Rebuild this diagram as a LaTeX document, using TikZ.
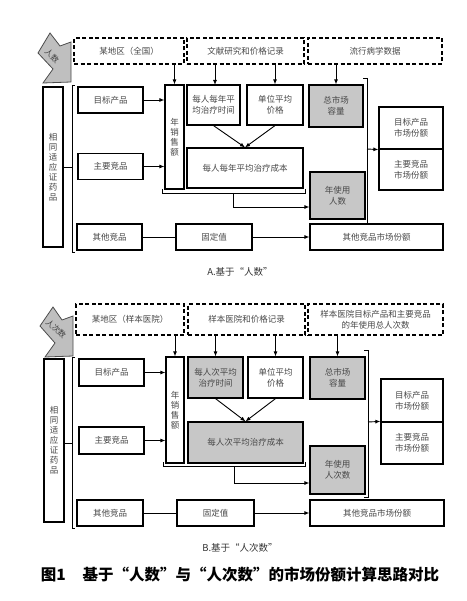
\documentclass[tikz,border=0pt]{standalone}
\usepackage{fontspec}
\newfontfamily\cjk{Noto Sans CJK SC}
\usetikzlibrary{arrows.meta}

\begin{document}
\begin{tikzpicture}[
    x=1pt, y=-1pt,
    box/.style={draw, line width=1.2pt, inner sep=0pt, align=center, text=black!72,
                font=\cjk\fontsize{8.5}{11}\selectfont},
    gbox/.style={box, fill=black!22},
    dbox/.style={box, dash pattern=on 4pt off 2.5pt},
    vtxt/.style={font=\cjk\fontsize{8.5}{10}\selectfont},
    sz/.style 2 args={minimum width=#1pt, minimum height=#2pt},
    arr/.style={line width=0.9pt, -{Latex[length=5pt,width=4pt]}},
    brk/.style={line width=0.9pt},
    bigarrow/.style={fill=black!25, draw=black!70, line width=0.8pt},
    lab/.style={inner sep=0pt, text=black!80, font=\cjk\fontsize{9.5}{11}\selectfont},
    tag/.style={inner sep=0pt, text=black!75, rotate=-42, font=\cjk\fontsize{8}{9}\selectfont}
]
\useasboundingbox (0,0) rectangle (466,601);

% ---------- A ----------
\draw[bigarrow] (50,33) -- (38,53) -- (53,69) -- (43,83) -- (71,82) -- (71,42) -- (60,46) -- cycle;
\node[tag] (pA) at (52,56) {人数};

\node[dbox, sz={110}{26}] (dA1) at (129,51)   {某地区（全国）};
\node[dbox, sz={117}{26}] (dA2) at (245.5,51) {文献研究和价格记录};
\node[dbox, sz={134}{26}] (dA3) at (375,51)   {流行病学数据};

\node[box, vtxt, sz={20}{160}] (drugA) at (53,167) {相\\同\\适\\应\\证\\药\\品};
\node[box, sz={65}{26}] (tgtA) at (110.5,100) {目标产品};
\node[box, sz={65}{26}] (rivA) at (110.5,166.5) {主要竞品};
\node[box, sz={65}{26}] (othA) at (109.5,237) {其他竞品};
\node[box, sz={76}{26}] (fixA) at (214,237) {固定值};
\node[box, sz={133}{26}] (othShareA) at (376.5,237) {其他竞品市场份额};

\node[box, vtxt, sz={19}{104}] (salesA) at (174.5,137) {年\\销\\售\\额};
\node[box, sz={53}{40}] (timeA) at (213.5,105) {每人每年平\\均治疗时间};
\node[box, sz={56}{40}] (priceA) at (275,105) {单位平均\\价格};
\node[box, sz={116}{40}] (costA) at (245,168) {每人每年平均治疗成本};
\node[gbox, sz={54}{42}] (totA) at (336,106) {总市场\\容量};
\node[gbox, sz={55}{47}] (usersA) at (337.5,195.5) {年使用\\人数};
\node[box, sz={64}{42}] (tgtShareA) at (411,128) {目标产品\\市场份额};
\node[box, sz={64}{41}] (rivShareA) at (411,169.5) {主要竞品\\市场份额};

% brackets
\coordinate (lbA) at (72,167);
\coordinate (bbA) at (233,193);
\coordinate (rbA) at (367,149);
\draw[brk] (75,85) -- (72,85) -- (72,252) -- (75,252);
\draw[brk] (162,189) -- (162,193) -- (305,193) -- (305,189);
\draw[brk] (363,78) -- (367,78) -- (367,223) -- (363,223);

\draw[brk] (drugA.east) -- (lbA);
\draw[arr] (salesA.north |- dA1.south) -- (salesA.north);
\draw[arr] (215,64) -- (215,85);
\draw[arr] (priceA.north |- dA2.south) -- (priceA.north);
\draw[arr] (totA.north |- dA3.south) -- (totA.north);
\draw[arr] (tgtA.east) -- (tgtA.east -| salesA.west);
\draw[arr] (rivA.east) -- (rivA.east -| salesA.west);
\draw[arr] (timeA.south) -- (costA.north);
\draw[arr] (priceA.south) -- (costA.north);
\draw[arr] (bbA) |- (usersA.west |- 0,207);
\draw[arr] (rbA) -- (tgtShareA.south west);
\draw[brk] (othA) -- (fixA);
\draw[arr] (fixA) -- (othShareA);

\node[lab] (capA) at (240,272) {A.基于“人数”};

% ---------- B ----------
\draw[bigarrow] (53,307) -- (40,326) -- (55,343) -- (45,357) -- (73,356) -- (73,316) -- (62,320) -- cycle;
\node[tag] (pB) at (56,329) {人次数};

\node[dbox, sz={108}{31}] (dB1) at (130,319.5)   {某地区（样本医院）};
\node[dbox, sz={117}{31}] (dB2) at (246.5,319.5) {样本医院和价格记录};
\node[dbox, sz={135}{31}] (dB3) at (375.5,319.5) {样本医院目标产品和主要竞品\\的年使用总人次数};

\node[box, vtxt, sz={20}{163}] (drugB) at (54,440.5) {相\\同\\适\\应\\证\\药\\品};
\node[box, sz={65}{27}] (tgtB) at (111.5,372.5) {目标产品};
\node[box, sz={65}{27}] (rivB) at (111.5,440.5) {主要竞品};
\node[box, sz={66}{26}] (othB) at (110,513) {其他竞品};
\node[box, sz={77}{26}] (fixB) at (215.5,513) {固定值};
\node[box, sz={134}{26}] (othShareB) at (377,513) {其他竞品市场份额};

\node[box, vtxt, sz={18}{106}] (salesB) at (175,410) {年\\销\\售\\额};
\node[gbox, sz={55}{41}] (timeB) at (215.5,377.5) {每人次平均\\治疗时间};
\node[box, sz={55}{41}] (priceB) at (275.5,377.5) {单位平均\\价格};
\node[gbox, sz={115}{41}] (costB) at (245.5,442.5) {每人次平均治疗成本};
\node[gbox, sz={55}{42}] (totB) at (337.5,378) {总市场\\容量};
\node[gbox, sz={55}{48}] (usersB) at (337.5,470) {年使用\\人次数};
\node[box, sz={62}{43}] (tgtShareB) at (412,400.5) {目标产品\\市场份额};
\node[box, sz={62}{42}] (rivShareB) at (412,443) {主要竞品\\市场份额};

% brackets
\coordinate (lbB) at (72,443);
\coordinate (bbB) at (234,466);
\coordinate (rbB) at (368,422);
\draw[brk] (75,357) -- (72,357) -- (72,528) -- (75,528);
\draw[brk] (163,462) -- (163,466) -- (305,466) -- (305,462);
\draw[brk] (364,350) -- (368,350) -- (368,497) -- (364,497);

\draw[brk] (drugB.east |- lbB) -- (lbB);
\draw[arr] (salesB.north |- dB1.south) -- (salesB.north);
\draw[arr] (timeB.north |- dB2.south) -- (timeB.north);
\draw[arr] (priceB.north |- dB2.south) -- (priceB.north);
\draw[arr] (totB.north |- dB3.south) -- (totB.north);
\draw[arr] (tgtB.east) -- (tgtB.east -| salesB.west);
\draw[arr] (rivB.east) -- (rivB.east -| salesB.west);
\draw[arr] (timeB.south) -- (costB.north);
\draw[arr] (priceB.south) -- (costB.north);
\draw[arr] (bbB) |- (usersB.west |- 0,483);
\draw[arr] (rbB) -- (rivShareB.north west);
\draw[brk] (othB) -- (fixB);
\draw[arr] (fixB) -- (othShareB);

\node[lab] (capB) at (240,548) {B.基于“人次数”};

\node[inner sep=0pt, font=\cjk\bfseries\fontsize{15.5}{17}\selectfont] (fig) at (240,575)
    {图1\hspace{1.1em}基于“人数”与“人次数”的市场份额计算思路对比};

\end{tikzpicture}
\end{document}
